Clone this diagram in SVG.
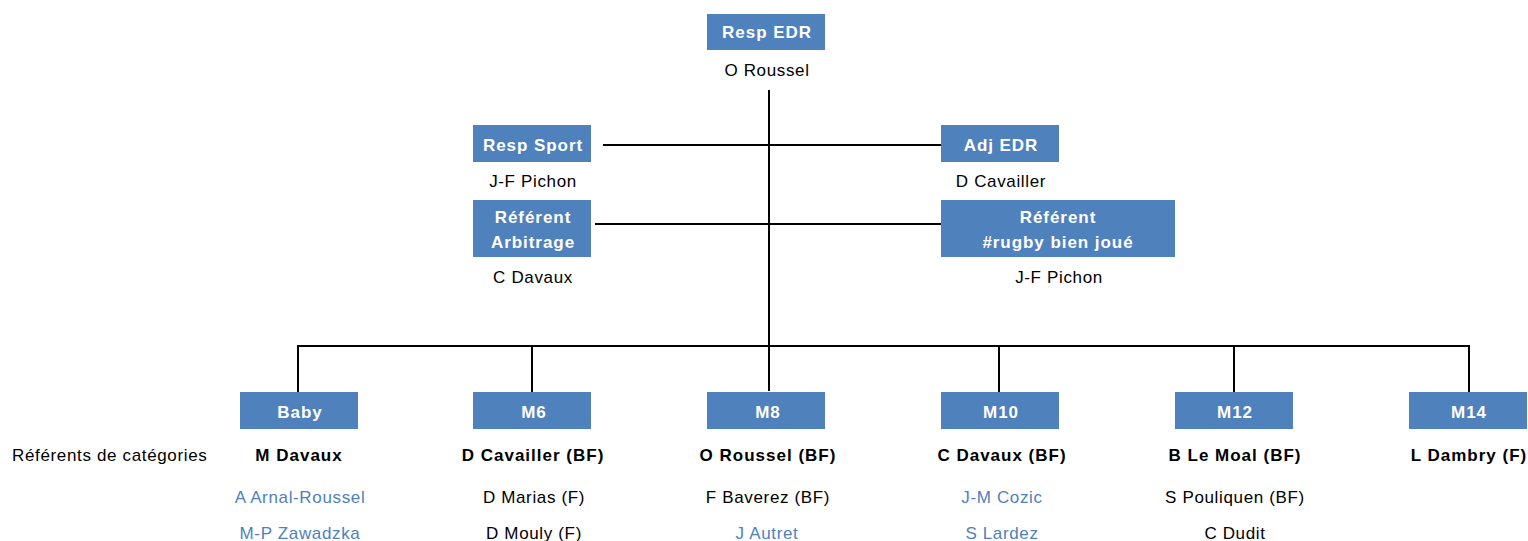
<svg xmlns="http://www.w3.org/2000/svg" width="1528" height="541" viewBox="0 0 1528 541">
<style>
.box{fill:#4F81BD}
.bt{font-family:"Liberation Sans",Arial,sans-serif;font-size:17px;font-weight:bold;fill:#fff;text-anchor:middle;letter-spacing:0.95px}
.t{font-family:"Liberation Sans",Arial,sans-serif;font-size:17px;fill:#000;text-anchor:middle;letter-spacing:0.65px}
.b{font-weight:bold;letter-spacing:1px}
.blue{fill:#4F81BD}
.ln{stroke:#000;stroke-width:2;fill:none}
</style>
<rect width="1528" height="541" fill="#fff"/>
<g id="connectors">
<line class="ln" x1="769" y1="90" x2="769" y2="391"/>
<line class="ln" x1="603" y1="145" x2="941" y2="145"/>
<line class="ln" x1="595" y1="224" x2="941" y2="224"/>
<line class="ln" x1="297" y1="346" x2="1470" y2="346"/>
<line class="ln" x1="298" y1="346" x2="298" y2="392"/>
<line class="ln" x1="532" y1="346" x2="532" y2="392"/>
<line class="ln" x1="999" y1="346" x2="999" y2="392"/>
<line class="ln" x1="1234" y1="346" x2="1234" y2="392"/>
<line class="ln" x1="1469" y1="346" x2="1469" y2="392"/>
</g>
<g id="resp-edr">
<rect class="box" x="707" y="14" width="118" height="36"/>
<text class="bt" x="767" y="38">Resp EDR</text>
<text class="t" x="767" y="76">O Roussel</text>
</g>
<g id="resp-sport">
<rect class="box" x="473" y="125" width="118" height="37"/>
<text class="bt" x="533" y="151">Resp Sport</text>
<text class="t" x="533" y="187">J-F Pichon</text>
</g>
<g id="adj-edr">
<rect class="box" x="941" y="125" width="118" height="37"/>
<text class="bt" x="1001" y="151">Adj EDR</text>
<text class="t" x="1001" y="187">D Cavailler</text>
</g>
<g id="ref-arbitrage">
<rect class="box" x="473" y="200" width="118" height="57"/>
<text class="bt" x="533" y="223">Référent</text>
<text class="bt" x="533" y="248">Arbitrage</text>
<text class="t" x="533" y="283">C Davaux</text>
</g>
<g id="ref-rugby">
<rect class="box" x="941" y="200" width="234" height="57"/>
<text class="bt" x="1058" y="223">Référent</text>
<text class="bt" x="1058" y="248">#rugby bien joué</text>
<text class="t" x="1059" y="283">J-F Pichon</text>
</g>
<g id="row-label">
<text class="t" x="12" y="461" style="text-anchor:start">Référents de catégories</text>
</g>
<g id="baby">
<rect class="box" x="240" y="392" width="118" height="37"/>
<text class="bt" x="300" y="418">Baby</text>
<text class="t b" x="299" y="461">M Davaux</text>
<text class="t blue" x="300" y="503">A Arnal-Roussel</text>
<text class="t blue" x="300" y="539">M-P Zawadzka</text>
</g>
<g id="m6">
<rect class="box" x="473" y="392" width="118" height="37"/>
<text class="bt" x="534" y="418">M6</text>
<text class="t b" x="533" y="461">D Cavailler (BF)</text>
<text class="t" x="534" y="503">D Marias (F)</text>
<text class="t" x="534" y="539">D Mouly (F)</text>
</g>
<g id="m8">
<rect class="box" x="707" y="392" width="118" height="37"/>
<text class="bt" x="768" y="418">M8</text>
<text class="t b" x="768" y="461">O Roussel (BF)</text>
<text class="t" x="768" y="503">F Baverez (BF)</text>
<text class="t blue" x="767" y="539">J Autret</text>
</g>
<g id="m10">
<rect class="box" x="941" y="392" width="118" height="37"/>
<text class="bt" x="1001" y="418">M10</text>
<text class="t b" x="1002" y="461">C Davaux (BF)</text>
<text class="t blue" x="1002" y="503">J-M Cozic</text>
<text class="t blue" x="1002" y="539">S Lardez</text>
</g>
<g id="m12">
<rect class="box" x="1175" y="392" width="118" height="37"/>
<text class="bt" x="1235" y="418">M12</text>
<text class="t b" x="1235" y="461">B Le Moal (BF)</text>
<text class="t" x="1235" y="503">S Pouliquen (BF)</text>
<text class="t" x="1235" y="539">C Dudit</text>
</g>
<g id="m14">
<rect class="box" x="1409" y="392" width="118" height="37"/>
<text class="bt" x="1469" y="418">M14</text>
<text class="t b" x="1469" y="461">L Dambry (F)</text>
</g>
</svg>
